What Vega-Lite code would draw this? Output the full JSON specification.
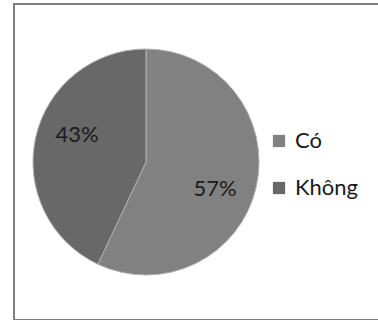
{
  "$schema": "https://vega.github.io/schema/vega-lite/v6.json",
  "autosize": {"type": "none"},
  "padding": {"left": 14, "top": 4, "right": 0, "bottom": 0},
  "width": 370,
  "height": 316,
  "background": "white",
  "data": {
    "values": [
      {"answer": "Có", "share": 0.57, "rank": 1},
      {"answer": "Không", "share": 0.43, "rank": 2}
    ]
  },
  "layer": [
    {
      "data": {"values": [{"x0": 0, "x1": 1, "y0": 0, "y1": 1}]},
      "mark": {"type": "rect", "fill": null, "stroke": "#7f7f7f", "strokeWidth": 2},
      "encoding": {
        "x": {"field": "x0", "type": "quantitative", "scale": {"domain": [0, 1], "nice": false}, "axis": null},
        "x2": {"field": "x1"},
        "y": {"field": "y0", "type": "quantitative", "scale": {"domain": [0, 1], "nice": false}, "axis": null},
        "y2": {"field": "y1"}
      }
    },
    {
      "mark": {"type": "arc", "radius": 113, "xOffset": -53, "stroke": "#b0b0b0", "strokeWidth": 1},
      "encoding": {
        "theta": {"field": "share", "type": "quantitative", "stack": true},
        "order": {"field": "rank", "type": "ordinal"},
        "color": {
          "field": "answer",
          "type": "nominal",
          "scale": {"domain": ["Có", "Không"], "range": ["#818181", "#686868"]},
          "legend": {
            "title": null,
            "orient": "none",
            "legendX": 254,
            "legendY": 126,
            "padding": 0,
            "symbolType": "square",
            "symbolSize": 150,
            "symbolStrokeWidth": 0,
            "labelFont": "Lato",
            "labelFontSize": 22,
            "labelColor": "#1a1a1a",
            "labelOffset": 5,
            "rowPadding": 25
          }
        }
      }
    },
    {
      "mark": {"type": "text", "radius": 74, "thetaOffset": 0.15, "xOffset": -53, "font": "Lato", "fontSize": 22, "color": "#1a1a1a"},
      "encoding": {
        "theta": {"field": "share", "type": "quantitative", "stack": true},
        "order": {"field": "rank", "type": "ordinal"},
        "text": {"field": "share", "type": "quantitative", "format": ".0%"},
        "detail": {"field": "rank", "type": "ordinal"}
      }
    }
  ],
  "config": {
    "view": {"stroke": null}
  }
}
